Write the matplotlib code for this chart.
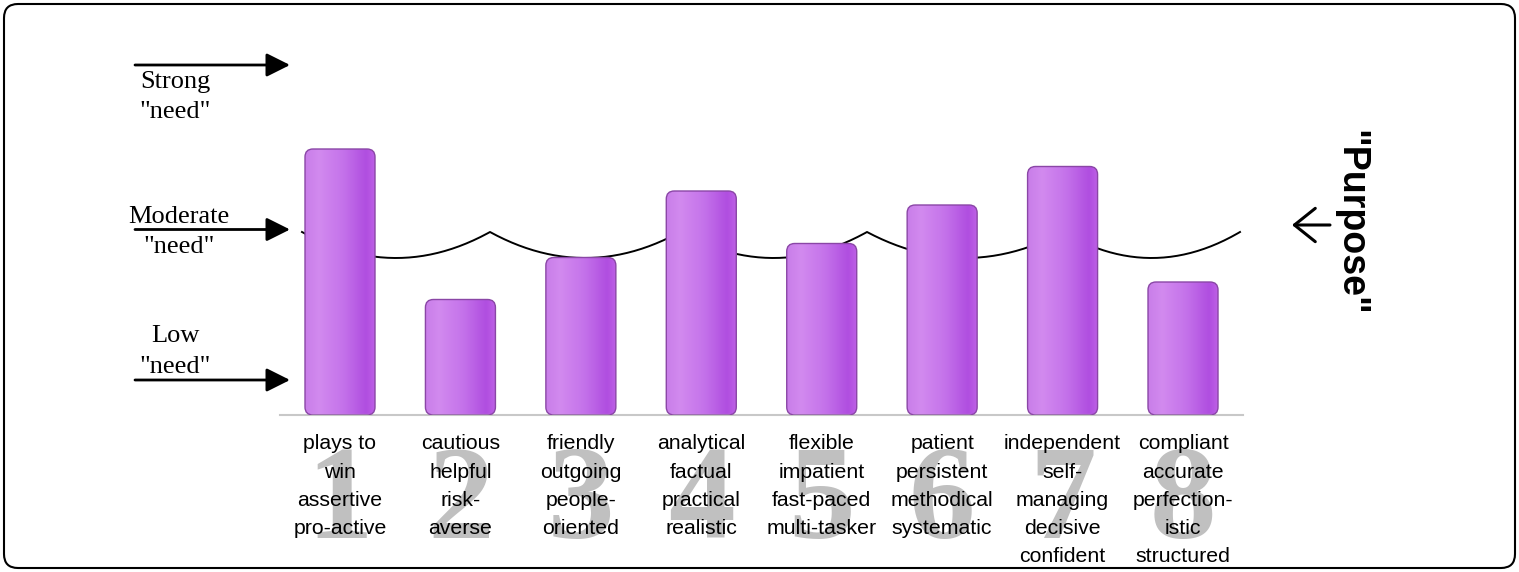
import numpy as np
import matplotlib
matplotlib.use("Agg")
import matplotlib.pyplot as plt
from matplotlib.patches import FancyBboxPatch
from matplotlib.colors import LinearSegmentedColormap

# data
NUMBERS = ["1", "2", "3", "4", "5", "6", "7", "8"]
LABELS = [
    "plays to\nwin\nassertive\npro-active",
    "cautious\nhelpful\nrisk-\naverse",
    "friendly\noutgoing\npeople-\noriented",
    "analytical\nfactual\npractical\nrealistic",
    "flexible\nimpatient\nfast-paced\nmulti-tasker",
    "patient\npersistent\nmethodical\nsystematic",
    "independent\nself-\nmanaging\ndecisive\nconfident",
    "compliant\naccurate\nperfection-\nistic\nstructured",
]
NEED = [76, 33, 45, 64, 49, 60, 71, 38]
LEVEL_NAMES = ["Low", "Moderate", "Strong"]
LEVELS = [10, 53, 100]

W, H = 1519, 572
fig = plt.figure(figsize=(W / 100, H / 100), dpi=100)

# overlay in pixel coords for decorations
ov = fig.add_axes([0, 0, 1, 1], zorder=0)
ov.set_xlim(0, W)
ov.set_ylim(H, 0)
ov.axis("off")

# plot area
x0px, step = 340, 120.43
base_px, top_px = 415, 65
px_per_y = (base_px - top_px) / 100
ax = fig.add_axes([(x0px - step / 2) / W, (H - base_px) / H,
                   8 * step / W, (base_px - top_px) / H], zorder=1)
ax.patch.set_alpha(0)

# bars with gradient and round corners
cmap = LinearSegmentedColormap.from_list(
    "bar", [(0, "#c97ee9"), (0.2, "#d28aef"), (0.55, "#c472ea"),
            (0.88, "#b04ee0"), (1, "#bd5fe5")])
grad = np.linspace(0, 1, 64).reshape(1, -1)
bw = 70 / step
aspect = step / px_per_y
for i, v in enumerate(NEED):
    box = FancyBboxPatch((i - bw / 2, 0), bw, v,
                         boxstyle=f"round,pad=0,rounding_size={8 / step}",
                         mutation_aspect=aspect, fc="none", ec="#8a46a6",
                         lw=1, zorder=3)
    ax.add_patch(box)
    im = ax.imshow(grad, extent=(i - bw / 2, i + bw / 2, 0, v), aspect="auto",
                   cmap=cmap, zorder=2, interpolation="bicubic")
    im.set_clip_path(box)

# big grey numbers behind labels
for i, n in enumerate(NUMBERS):
    ax.text(i, -(538 - base_px) / px_per_y, n, ha="center", va="baseline",
            fontsize=96, family="Liberation Serif", weight="bold",
            color="#c0c0c0", zorder=0.5, clip_on=False)

ax.set_xlim(-0.5, 7.5)
ax.set_ylim(0, 100)
ax.set_xticks(range(len(LABELS)), LABELS, fontsize=15.3,
              family="Liberation Sans", linespacing=1.61)
ax.tick_params(axis="x", length=0, pad=14)
ax.set_yticks([])
for s in ["top", "left", "right"]:
    ax.spines[s].set_visible(False)
ax.spines["bottom"].set_color("#c8c8c8")
ax.spines["bottom"].set_linewidth(1.5)

# level arrows on the left
for lvl in LEVELS:
    ax.annotate("", xy=(290, lvl), xycoords=("figure pixels", "data"),
                xytext=(135, lvl), textcoords=("figure pixels", "data"),
                annotation_clip=False,
                arrowprops=dict(arrowstyle="-|>,head_length=0.8,head_width=0.4",
                                mutation_scale=18, lw=2, color="black",
                                shrinkA=0, shrinkB=0))

label_pos = {"Strong": (175, 88, 118), "Moderate": (179, 223, 253), "Low": (175, 342, 373)}
for name in LEVEL_NAMES:
    x, y1, y2 = label_pos[name]
    ov.text(x, y1, name, ha="center", va="baseline", fontsize=19,
            family="Liberation Serif")
    ov.text(x, y2, '"need"', ha="center", va="baseline", fontsize=19,
            family="Liberation Serif")

# braces behind the bars
peaks = [302, 490, 680, 867, 1063, 1240]
bx, by = [], []
for a, b in zip(peaks[:-1], peaks[1:]):
    u = np.linspace(0, 1, 80)
    bx.append(a + (b - a) * u)
    by.append(232 + 26 * (1 - np.abs(2 * u - 1) ** 2.0))
ov.plot(np.concatenate(bx), np.concatenate(by), color="black", lw=1.4)

# "Purpose" on the right
ov.text(1350, 223, '"Purpose"', rotation=-90, ha="center", va="center",
        fontsize=27, weight="bold", family="Liberation Sans")
ov.annotate("", xy=(1292, 225), xytext=(1330, 225),
            arrowprops=dict(arrowstyle="->,head_length=0.75,head_width=0.6",
                            mutation_scale=20, lw=2.2, color="black",
                            shrinkA=0, shrinkB=0))

# rounded frame
ov.add_patch(FancyBboxPatch((4, 4), W - 8, H - 8,
                            boxstyle="round,pad=0,rounding_size=14",
                            fc="none", ec="black", lw=1.5))

fig.savefig("out.png", dpi=100)
